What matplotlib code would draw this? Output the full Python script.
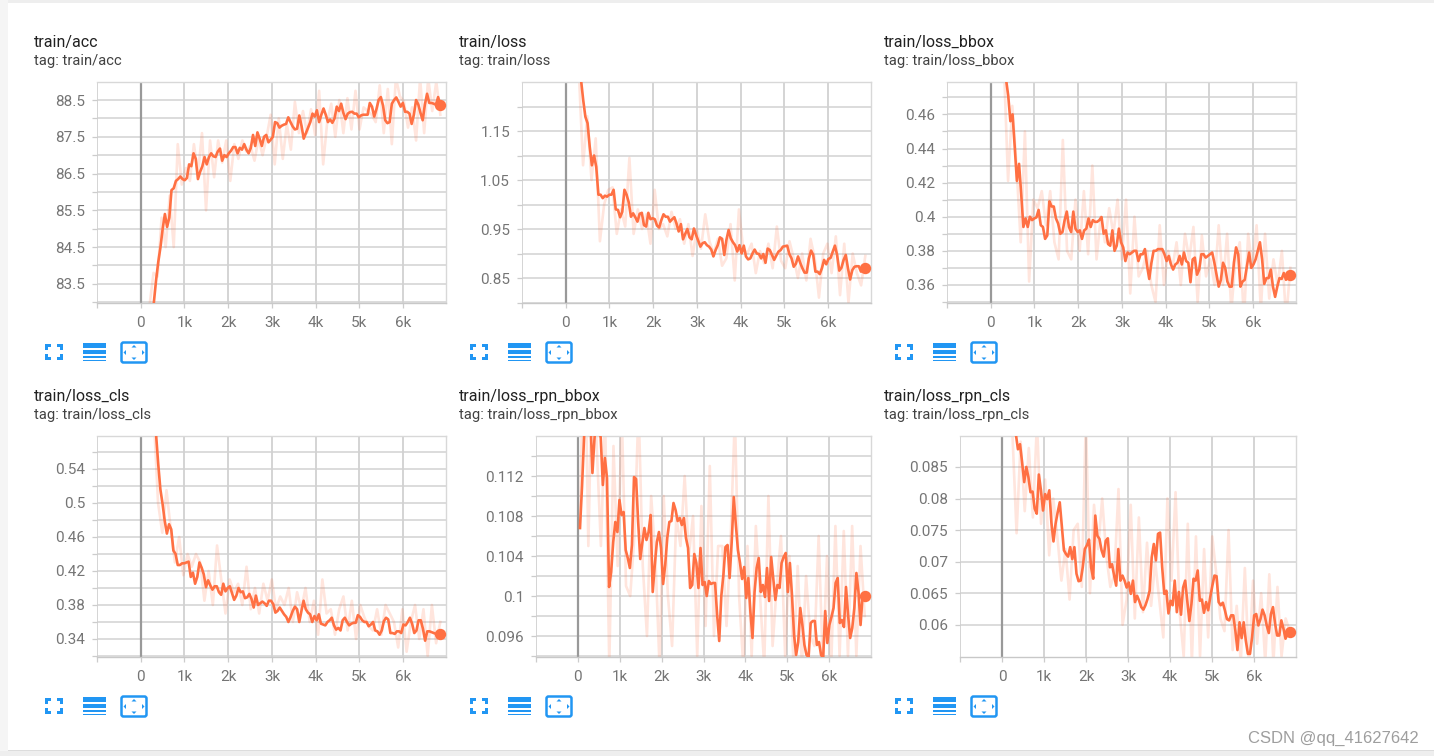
import numpy as np
import matplotlib
matplotlib.use("Agg")
import matplotlib.pyplot as plt
from matplotlib.patches import Rectangle, FancyBboxPatch, Polygon

W, H = 1434, 756
plt.rcParams['font.family'] = ['Roboto', 'DejaVu Sans']

names = ["train/acc", "train/loss", "train/loss_bbox", "train/loss_cls", "train/loss_rpn_bbox", "train/loss_rpn_cls"]

acc_smooth = [81.5,83.0,83.6,84.1,84.5,85.0,85.4,85.05,85.3,86.05,86.1,86.3,86.35,86.42,86.35,86.32,86.38,86.75,86.7,87.05,86.9,86.35,86.55,86.7,86.95,86.75,86.95,87.05,86.97,86.95,87.1,87.18,86.85,87.0,86.95,87.05,87.12,87.22,87.22,87.05,87.2,87.15,87.3,87.15,87.05,87.2,87.55,87.25,87.62,87.45,87.25,87.5,87.55,87.35,87.42,87.5,87.9,87.87,87.75,87.8,87.83,87.85,88.03,87.9,87.78,87.7,87.72,88.08,87.8,87.45,87.6,87.75,87.9,88.13,88.05,88.22,87.9,88.1,88.27,88.1,87.9,87.97,87.88,88.0,88.32,88.2,88.4,88.15,87.98,88.13,88.17,88.18,88.13,88.13,88.03,88.08,88.1,88.1,88.1,88.42,88.32,88.05,88.25,88.5,88.58,88.35,87.95,87.87,87.9,88.4,88.5,88.57,88.45,88.32,88.42,88.18,88.18,88.13,87.85,88.1,88.5,88.38,88.15,87.95,88.38,88.67,88.42,88.42,88.4,88.37,88.58,88.37]
acc_start = 250
acc_raw = [82.9,83.8,83.7,85.3,84.5,85.9,84.5,87.3,86.2,86.65,86.3,87.3,86.5,87.6,85.5,87.4,86.4,87.4,86.8,87.4,86.3,87.3,86.9,87.4,87.1,87.25,86.85,87.45,87.0,87.5,88.1,86.75,88.0,86.9,87.85,87.15,88.45,87.6,88.2,87.6,88.25,87.55,88.75,86.75,87.9,88.4,87.5,88.5,87.6,88.55,87.7,88.75,87.7,88.3,88.2,88.1,87.9,88.9,87.6,88.8,87.3,89.1,88.6,88.45,87.75,88.3,87.4,89.1,87.6,89.1,88.2,89.0,88.1]
raw_acc_start = 200

loss_smooth = [1.254,1.213,1.179,1.166,1.118,1.08,1.10,1.077,1.02,1.02,1.013,1.018,1.016,1.02,1.02,1.03,.99,.989,.974,.985,1.03,1.02,1.004,.975,.982,.974,.965,.981,.983,.958,.955,.983,.97,.972,.97,.957,.953,.968,.98,.975,.975,.965,.97,.974,.961,.945,.96,.929,.94,.95,.933,.929,.951,.938,.926,.914,.921,.923,.917,.914,.908,.894,.907,.917,.933,.93,.897,.928,.948,.931,.923,.917,.904,.917,.90,.916,.894,.888,.89,.90,.908,.90,.899,.89,.899,.881,.91,.907,.897,.887,.896,.904,.907,.914,.915,.916,.899,.89,.873,.879,.894,.881,.87,.861,.861,.89,.906,.897,.863,.863,.858,.87,.887,.878,.889,.891,.904,.916,.897,.865,.871,.887,.897,.87,.847,.866,.873,.874,.874,.863,.876,.87]
loss_start = 350
loss_raw = [1.27,1.08,1.18,1.05,1.135,.925,1.0,1.03,1.035,.94,.99,.955,1.095,.94,.99,.95,.98,.92,1.03,.95,.96,.935,.985,.95,.97,.92,.96,.895,.95,.91,.98,.925,.90,.93,.875,.89,.96,.845,.99,.91,.90,.92,.86,.905,.88,.92,.87,.955,.885,.87,.925,.89,.85,.90,.845,.93,.89,.81,.90,.92,.86,.935,.815,.92,.80,.90,.86,.835,.895]
raw_loss_start = 300

bbox_smooth = [.4806,.471,.456,.46,.441,.421,.431,.413,.394,.399,.394,.40,.398,.399,.3996,.404,.395,.394,.387,.389,.409,.406,.406,.399,.396,.39,.391,.398,.403,.394,.391,.403,.393,.391,.392,.387,.392,.393,.399,.394,.398,.397,.397,.398,.3998,.39,.392,.384,.383,.392,.38,.383,.393,.385,.382,.374,.379,.378,.379,.38,.38,.374,.378,.378,.381,.371,.3635,.373,.38,.38,.381,.381,.381,.378,.374,.377,.372,.369,.372,.373,.377,.372,.379,.374,.373,.3616,.375,.376,.366,.369,.378,.378,.376,.377,.378,.379,.373,.366,.359,.363,.373,.37,.362,.359,.359,.373,.382,.378,.359,.362,.363,.371,.379,.37,.372,.375,.38,.385,.375,.3606,.364,.364,.369,.359,.353,.359,.364,.3635,.367,.363,.366,.366]
bbox_start = 350
bbox_raw = [.49,.421,.465,.43,.385,.45,.362,.41,.405,.415,.395,.415,.385,.375,.445,.38,.375,.41,.38,.415,.378,.43,.375,.40,.385,.405,.39,.41,.375,.41,.355,.40,.365,.37,.38,.36,.35,.395,.36,.38,.37,.385,.36,.39,.375,.394,.35,.389,.365,.375,.36,.395,.36,.39,.345,.375,.385,.34,.39,.37,.395,.345,.39,.352,.375,.36,.38,.34,.37]
raw_bbox_start = 300

cls_smooth = [.581,.546,.516,.499,.479,.464,.475,.469,.444,.44,.427,.427,.429,.429,.43,.431,.413,.418,.405,.413,.43,.424,.416,.401,.409,.403,.398,.402,.402,.395,.392,.405,.396,.40,.402,.394,.386,.391,.40,.395,.396,.388,.389,.393,.387,.377,.391,.38,.382,.384,.382,.379,.385,.385,.381,.371,.373,.377,.373,.369,.366,.36,.366,.373,.378,.375,.36,.373,.385,.375,.371,.369,.36,.367,.362,.369,.358,.357,.356,.36,.362,.365,.356,.351,.353,.35,.362,.365,.36,.356,.358,.359,.359,.368,.366,.362,.36,.36,.355,.357,.36,.35,.349,.345,.35,.361,.365,.363,.347,.347,.346,.349,.349,.347,.357,.356,.36,.365,.358,.347,.35,.362,.362,.352,.338,.349,.349,.348,.347,.346,.346,.346]
cls_start = 350
cls_raw = [.60,.50,.465,.515,.47,.43,.46,.415,.44,.425,.44,.43,.385,.42,.38,.45,.41,.37,.41,.395,.405,.38,.425,.375,.40,.37,.405,.385,.41,.375,.39,.38,.40,.36,.395,.375,.40,.36,.385,.345,.41,.37,.375,.345,.375,.39,.35,.385,.34,.38,.365,.355,.35,.375,.345,.38,.37,.36,.33,.375,.325,.36,.38,.34,.375,.32,.38,.335,.36]
raw_cls_start = 300

rpnb_smooth = [.1068,.111,.116,.119,.12,.1178,.1123,.1158,.118,.117,.1158,.1111,.1138,.1118,.1009,.1024,.1054,.1074,.1064,.1096,.1081,.1084,.1046,.1038,.1028,.1051,.1119,.1117,.1074,.1037,.1053,.1068,.1056,.1064,.1081,.1004,.1031,.1054,.1064,.1048,.1012,.1031,.1058,.1074,.1075,.1093,.1086,.1075,.1078,.1071,.1078,.1058,.1048,.1008,.1011,.1042,.1033,.1008,.1048,.1011,.1014,.10,.1015,.1012,.1013,.1013,.0981,.0955,.10,.1021,.1049,.1051,.1018,.1054,.1099,.1071,.1046,.1033,.1017,.1029,.0998,.1018,.0984,.0958,.1004,.1028,.1038,.1004,.1011,.0999,.1028,.0995,.1039,.1018,.0996,.1011,.1008,.1033,.1039,.1043,.1004,.1033,.1001,.0961,.0941,.0954,.0988,.0971,.0951,.0941,.0939,.0973,.0975,.0975,.0951,.0954,.0941,.0938,.0985,.0953,.0971,.0979,.0988,.1013,.1018,.0973,.0976,.0969,.1009,.0981,.0958,.0968,.0988,.1023,.1004,.0971,.1001,.10]
rpnb_start = 50
rpnb_raw = [.1068,.13,.105,.125,.115,.105,.118,.093,.115,.103,.118,.101,.10,.106,.119,.103,.096,.11,.104,.093,.11,.10,.095,.108,.105,.112,.104,.108,.094,.109,.097,.113,.096,.105,.105,.097,.106,.118,.10,.093,.105,.094,.107,.10,.093,.11,.095,.101,.106,.094,.104,.093,.103,.093,.102,.096,.095,.106,.093,.104,.093,.107,.094,.1065,.094,.107,.094,.105,.098]
raw_rpnb_start = 50

rpnc_smooth = [.0902,.0902,.0878,.0886,.0857,.0826,.085,.0834,.081,.0811,.0784,.0776,.0838,.0813,.0781,.0807,.0799,.0813,.0762,.0732,.076,.0778,.0794,.0755,.0718,.0712,.0708,.0723,.0704,.0723,.0681,.0669,.067,.0691,.072,.0726,.0735,.0691,.0673,.0773,.0741,.0736,.0718,.0708,.0733,.0737,.0691,.0696,.0678,.0662,.072,.067,.0678,.067,.0659,.0667,.0649,.067,.0636,.0646,.0638,.0628,.0624,.0631,.0641,.0654,.0707,.0728,.0702,.0744,.0746,.0691,.0649,.0654,.0618,.0638,.0631,.067,.062,.0652,.0616,.0659,.067,.0638,.0606,.0633,.0673,.067,.0686,.0638,.064,.0619,.0636,.0623,.0644,.0662,.0678,.0677,.0636,.0631,.0635,.0623,.0609,.0607,.0615,.0615,.0591,.056,.0604,.0579,.0604,.0575,.0554,.0554,.058,.0615,.0617,.0599,.0609,.0624,.0615,.0599,.0587,.0617,.0628,.0602,.0583,.0583,.0607,.0594,.0578,.0587,.0588]
rpnc_start = 280
rpnc_raw = [.090,.0745,.089,.078,.088,.077,.092,.076,.083,.071,.080,.074,.067,.072,.064,.075,.076,.066,.093,.065,.079,.072,.080,.071,.066,.068,.0815,.060,.064,.079,.061,.077,.062,.073,.063,.07,.064,.058,.080,.067,.081,.062,.055,.076,.054,.074,.055,.072,.058,.074,.068,.061,.059,.075,.056,.063,.054,.069,.053,.067,.057,.065,.054,.068,.054,.066,.055,.061,.059]
raw_rpnc_start = 250

smooths = [acc_smooth, loss_smooth, bbox_smooth, cls_smooth, rpnb_smooth, rpnc_smooth]
starts = [acc_start, loss_start, bbox_start, cls_start, rpnb_start, rpnc_start]
raws = [acc_raw, loss_raw, bbox_raw, cls_raw, rpnb_raw, rpnc_raw]
raw_starts = [raw_acc_start, raw_loss_start, raw_bbox_start, raw_cls_start, raw_rpnb_start, raw_rpnc_start]
last_step = 6850

major_ticks = [[83.5,84.5,85.5,86.5,87.5,88.5],[.85,.95,1.05,1.15],[.36,.38,.40,.42,.44,.46],
               [.34,.38,.42,.46,.50,.54],[.096,.10,.104,.108,.112],[.06,.065,.07,.075,.08,.085]]
major_labels = [["83.5","84.5","85.5","86.5","87.5","88.5"],["0.85","0.95","1.05","1.15"],
                ["0.36","0.38","0.4","0.42","0.44","0.46"],["0.34","0.38","0.42","0.46","0.5","0.54"],
                ["0.096","0.1","0.104","0.108","0.112"],["0.06","0.065","0.07","0.075","0.08","0.085"]]
minor_ticks = [[83,84,85,86,87,88],[.8,.9,1.0,1.1,1.2],[.35,.37,.39,.41,.43,.45,.47],
               [.32,.36,.40,.44,.48,.52,.56],[.094,.098,.102,.106,.110,.114],[]]
ylims = [(82.98,88.99),(.799,1.25),(.3494,.479),(.3188,.5788),(.0939,.116),(.0549,.0899)]
xticks = [0,1000,2000,3000,4000,5000,6000]
xlabels = ["0","1k","2k","3k","4k","5k","6k"]
# pixel frames: left, right, top, bottom
frames = [(97,446,82,303),(522,871,82,303),(947,1296,82,303),(97,446,436,657),(536,871,436,657),(960,1296,436,657)]
xlims = [(-1000,6980),(-1000,6980),(-1000,6980),(-1000,6980),(-1000,7000),(-1000,7000)]
text_x = [34,459,884,34,459,884]
text_y = [42,42,42,396,396,396]
icon_dx = [0,425,850,0,425,850]
icon_dy = [0,0,0,354,354,354]

ORANGE = "#ff7043"; BLUE = "#2196f3"; TICK = "#757575"; GRID = "#d2d2d2"; GRIDV = "#c9c9c9"

fig = plt.figure(figsize=(W/100, H/100), dpi=100, facecolor="white")
bg = fig.add_axes([0,0,1,1]); bg.set_xlim(0,W); bg.set_ylim(H,0); bg.axis("off")
bg.add_patch(Rectangle((0,0),W,3,color="#eeeeee",lw=0))
bg.add_patch(Rectangle((0,0),8,H,color="#f5f5f5",lw=0))
bg.add_patch(Rectangle((0,751),W,5,color="#eeeeee",lw=0))
bg.add_patch(Rectangle((8,750),W,1,color="#dcdcdc",lw=0))

def draw_icons(dx, dy):
    # fit-to-screen corners
    for cx, cy, sx, sy in [(46,345,1,1),(62,345,-1,1),(46,359,1,-1),(62,359,-1,-1)]:
        x, y = cx+dx, cy+dy
        bg.add_patch(Rectangle((x-(1 if sx>0 else -1), y-(1 if sy>0 else -1)), sx*6, 2.6*sy, color=BLUE, lw=0))
        bg.add_patch(Rectangle((x-(1 if sx>0 else -1), y-(1 if sy>0 else -1)), 2.6*sx, sy*6, color=BLUE, lw=0))
    # stacked lines
    for yy, hh in [(342.5,5.5),(350,4),(355.5,2),(359.5,1.5)]:
        bg.add_patch(Rectangle((83+dx, yy+dy), 23, hh, color=BLUE, lw=0))
    # fit domain box
    bg.add_patch(FancyBboxPatch((121.5+dx,342.5+dy),25,20,boxstyle="round,pad=0,rounding_size=2",fc="white",ec=BLUE,lw=1.8))
    mx, my = 134+dx, 352.5+dy
    for pts in [[(mx-2.5,my-5),(mx+2.5,my-5),(mx,my-7.5)],[(mx-2.5,my+5),(mx+2.5,my+5),(mx,my+7.5)],
                [(mx-8,my-2.5),(mx-8,my+2.5),(mx-10.5,my)],[(mx+8,my-2.5),(mx+8,my+2.5),(mx+10.5,my)]]:
        bg.add_patch(Polygon(pts,closed=True,color=BLUE,lw=0))

for i, name in enumerate(names):
    l, r, t, b = frames[i]
    ax = fig.add_axes([l/W, 1-b/H, (r-l)/W, (b-t)/H], facecolor="none")
    s = np.array(smooths[i]); sx = np.linspace(starts[i], last_step, len(s))
    w = np.array(raws[i]); wx = np.linspace(raw_starts[i], last_step, len(w))
    ax.set_xlim(*xlims[i]); ax.set_ylim(*ylims[i])
    ax.set_xticks([-1000]+xticks); ax.set_xticklabels([""]+xlabels)
    ax.set_yticks(major_ticks[i]); ax.set_yticklabels(major_labels[i])
    ax.set_yticks(minor_ticks[i], minor=True)
    ax.grid(True, axis="y", which="both", color=GRID, lw=1.1, zorder=0)
    ax.grid(True, axis="x", which="major", color=GRIDV, lw=1.1, zorder=0)
    ax.set_axisbelow(True)
    ax.axvline(0, color="#999999", lw=1.6, zorder=1)
    ax.plot(wx, w, color=ORANGE, alpha=0.18, lw=1.9, zorder=2, solid_joinstyle="round")
    ax.plot(sx, s, color=ORANGE, lw=1.9, zorder=3, solid_joinstyle="round")
    ax.plot(sx[-1:], s[-1:], "o", color=ORANGE, ms=8.2, mew=0, zorder=4, clip_on=False)
    ax.spines["left"].set_visible(False)
    for sp in ["top","right","bottom"]:
        ax.spines[sp].set_color("#d8d8d8"); ax.spines[sp].set_linewidth(1)
    ax.spines["bottom"].set_color("#c8c8c8")
    ax.tick_params(axis="both", which="both", length=3.6, width=0.9, color="#cccccc", labelcolor=TICK, labelsize=11, pad=5)
    ax.tick_params(axis="x", pad=5.5)
    bg.text(text_x[i], text_y[i], name, fontsize=11.5, color="#212121", va="center", ha="left")
    bg.text(text_x[i], text_y[i]+18.5, "tag: "+name, fontsize=10.6, color="#424242", va="center", ha="left")
    draw_icons(icon_dx[i], icon_dy[i])

bg.text(1419, 738, "CSDN @qq_41627642", fontsize=12, color="#9e9e9e", ha="right", va="center",
        family=["Liberation Sans"])
fig.savefig("out.png", dpi=100, facecolor="white")
